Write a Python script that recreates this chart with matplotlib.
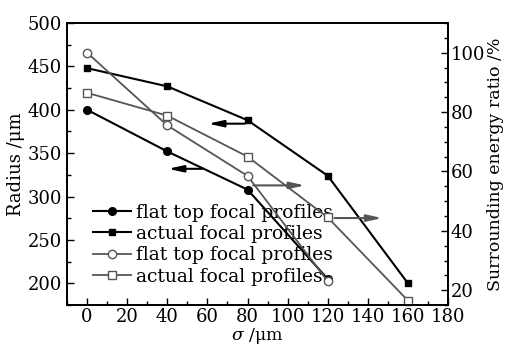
import numpy as np
import matplotlib.pyplot as plt
from matplotlib.ticker import MultipleLocator

plt.rcParams['font.family'] = ['DejaVu Serif']
plt.rcParams['mathtext.fontset'] = 'dejavuserif'

# sigma values and measured results
sigma_flat = [0, 40, 80, 120]
sigma_actual = [0, 40, 80, 120, 160]
radius_flat = [400, 352, 308, 205]
radius_actual = [448, 427, 388, 324, 200]
energy_flat = [100, 75.5, 58.5, 23]
energy_actual = [86.5, 78.8, 65, 44.5, 16.5]

labels = ['flat top focal profiles', 'actual focal profiles',
          'flat top focal profiles', 'actual focal profiles']

grey = '#555555'

fig = plt.figure(figsize=(5.08, 3.49), dpi=100)
ax = fig.add_axes([0.132, 0.126, 0.750, 0.808])
ax2 = ax.twinx()

l1, = ax.plot(sigma_flat, radius_flat, '-o', color='black', lw=1.5, ms=5.5,
              clip_on=False)
l2, = ax.plot(sigma_actual, radius_actual, '-s', color='black', lw=1.5, ms=5,
              clip_on=False)
l3, = ax2.plot(sigma_flat, energy_flat, '-o', color=grey, lw=1.3, ms=6,
               mfc='white', mec=grey, clip_on=False)
l4, = ax2.plot(sigma_actual, energy_actual, '-s', color=grey, lw=1.3, ms=5.5,
               mfc='white', mec=grey, clip_on=False)

ax.set_xlim(-10, 180)
ax.set_ylim(175, 500)
ax2.set_ylim(15, 110)

# arrows pointing at the axis each curve belongs to
arrow_kw = dict(arrowstyle='-|>,head_length=0.9,head_width=0.2', lw=1.5)
ax.annotate('', xy=(59, 384), xytext=(80, 384),
            arrowprops=dict(color='black', **arrow_kw))
ax.annotate('', xy=(39, 332), xytext=(59, 332),
            arrowprops=dict(color='black', **arrow_kw))
ax2.annotate('', xy=(110, 55.3), xytext=(81.5, 55.3),
             arrowprops=dict(color=grey, **arrow_kw))
ax2.annotate('', xy=(148.5, 44.3), xytext=(122, 44.3),
             arrowprops=dict(color=grey, **arrow_kw))

ax.xaxis.set_major_locator(MultipleLocator(20))
ax.xaxis.set_minor_locator(MultipleLocator(10))
ax.yaxis.set_major_locator(MultipleLocator(50))
ax.yaxis.set_minor_locator(MultipleLocator(25))
ax2.yaxis.set_major_locator(MultipleLocator(20))
ax2.yaxis.set_minor_locator(MultipleLocator(5))

for a in (ax, ax2):
    a.tick_params(which='both', direction='in', labelsize=13, width=1)
    a.tick_params(which='major', length=5)
    a.tick_params(which='minor', length=3)
    for s in a.spines.values():
        s.set_linewidth(1.3)
ax.tick_params(axis='x', which='both', top=False, pad=2.5)
ax2.tick_params(axis='y', pad=2)

ax.set_ylabel('Radius /μm', fontsize=13, labelpad=2)
ax2.set_ylabel('Surrounding energy ratio /%', fontsize=12.5, labelpad=1)
ax.set_xlabel(r'$\sigma$ /μm', fontsize=12.5, labelpad=0)

ax.legend([l1, l2, l3, l4], labels, loc='upper left',
          bbox_to_anchor=(0.069, 0.36), frameon=False, fontsize=13.5,
          handlelength=2.0, handletextpad=0.3, labelspacing=0.18,
          borderpad=0, borderaxespad=0)

fig.savefig('out.png', dpi=100)
